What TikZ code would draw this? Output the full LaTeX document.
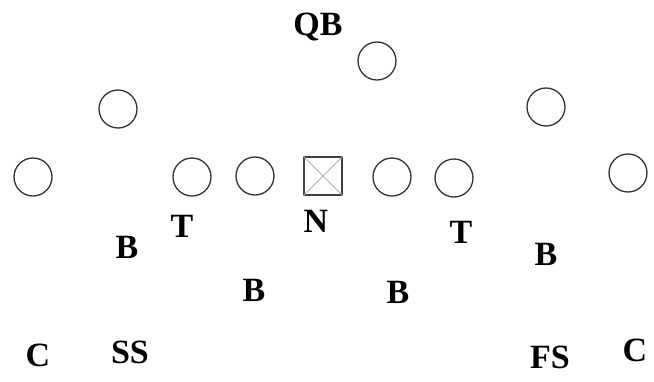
\documentclass[tikz,border=0pt]{standalone}
\usepackage{fontspec}
\setmainfont{Liberation Serif}
\begin{document}
\begin{tikzpicture}[x=1pt,y=-1pt,
  player/.style={circle,draw=black!80,line width=1.3pt,minimum size=38pt,inner sep=0pt},
  center/.style={rectangle,draw=black!75,line width=1.4pt,minimum size=38pt,inner sep=0pt},
  tag/.style={font=\fontsize{34}{34}\selectfont\bfseries,inner sep=0pt}]
\useasboundingbox (0,0) rectangle (654,381);
% offensive formation
\node[player] (qb) at (377,61) {};
\node[player] (wl) at (118,109) {};
\node[player] (wr) at (546,107) {};
\node[player] (el) at (33,177) {};
\node[player] (tl) at (192,177) {};
\node[player] (gl) at (255,176) {};
\node[center] (c) at (323,176) {};
\draw[black!30,line width=1pt] (c.north west) -- (c.south east) (c.north east) -- (c.south west);
\node[player] (gr) at (392,177) {};
\node[player] (tr) at (454,178) {};
\node[player] (er) at (628,173) {};
% defensive labels
\node[tag] (lqb) at (318,27) {QB};
\node[tag] (lt1) at (182,226) {T};
\node[tag] (ln) at (316,221) {N};
\node[tag] (lt2) at (461,232) {T};
\node[tag] (lb1) at (127,247) {B};
\node[tag] (lb2) at (254,290) {B};
\node[tag] (lb3) at (398,292) {B};
\node[tag] (lb4) at (546,254) {B};
\node[tag] (lc1) at (38,355) {C};
\node[tag] (lss) at (130,352) {SS};
\node[tag] (lfs) at (550,357) {FS};
\node[tag] (lc2) at (635,350) {C};
\end{tikzpicture}
\end{document}
